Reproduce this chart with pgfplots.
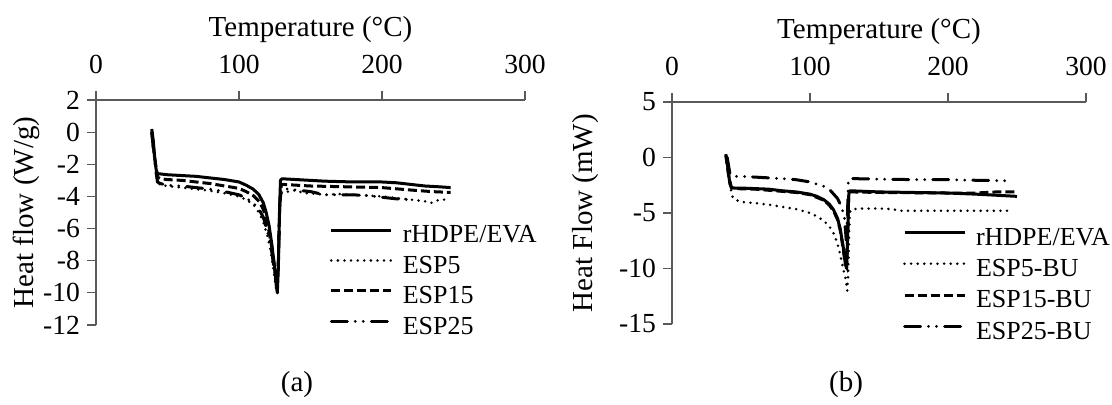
\documentclass[border=0pt]{standalone}
\usepackage{fontspec}
\setmainfont{Liberation Serif}
\usepackage{pgfplots}
\pgfplotsset{compat=1.18}

\newcommand{\fs}{\fontsize{13.8pt}{16pt}\selectfont}
\newcommand{\fl}{\fontsize{14.5pt}{17pt}\selectfont}
\newcommand{\fg}{\fontsize{13pt}{15pt}\selectfont}

\pgfplotsset{
  dsc/.style={
    scale only axis,
    xmin=0, xmax=300, xtick distance=100,
    axis x line*=top, axis y line*=left,
    axis line style={black!65, line width=0.6pt, -},
    tick style={black!65, line width=0.6pt},
    tick align=outside, major tick length=4.5pt,
    /pgf/number format/assume math mode=true,
    tick label style={font=\fs},
    xticklabel style={anchor=base, yshift=9pt},
    yticklabel style={anchor=east},
    xlabel={Temperature (°C)},
    every axis x label/.style={at={(axis description cs:0.5,1)}, anchor=base, yshift=32pt, font=\fl},
    legend cell align=left,
    legend style={draw=none, fill=none, font=\fg, anchor=north west, inner sep=0pt,
      row sep=0pt, column sep=5pt,
      nodes={inner sep=0pt, text height=10.5pt, text depth=4.7pt}},
    legend image code/.code={\draw[##1] (0pt,3.5pt) -- (30pt,3.5pt);},
  },
  s1/.style={black, line width=1.5pt, line join=round},
  s2/.style={black, line width=1.4pt, line cap=round, dash pattern=on 0pt off 3.3pt},
  s3/.style={black, line width=1.5pt, dash pattern=on 4.5pt off 2pt},
  s4/.style={black, line width=1.5pt, line cap=round, dash pattern=on 8pt off 4pt on 0pt off 4pt on 0pt off 4pt},
}

\begin{document}
\begin{tikzpicture}
\useasboundingbox (0,0) rectangle (556pt,202pt);

% (a) heat flow in W/g
\begin{axis}[dsc, at={(48pt,39.5pt)}, anchor=south west,
  width=214.5pt, height=112.5pt,
  ymin=-12, ymax=2, ytick distance=2,
  ylabel={Heat flow (W/g)},
  every axis y label/.style={at={(axis description cs:-0.163,0.5)}, rotate=90, anchor=center, font=\fl},
  legend style={at={(0.544,0.46)}},
]
\addplot[s1] coordinates {
(39,0.2) (40,-0.5) (41,-1.5) (42,-2.3) (43,-2.6) (45,-2.6) (50,-2.65) (60,-2.7)
(70,-2.75) (80,-2.85) (90,-2.95) (100,-3.1) (105,-3.3) (110,-3.55) (114,-3.9)
(117,-4.4) (119,-5.0) (121,-5.8) (123,-7.0) (125,-8.5) (126,-9.5) (126.8,-10)
(127.5,-8.5) (128.3,-5) (129,-3.0) (130,-2.9) (140,-2.95) (150,-3.0) (160,-3.05)
(180,-3.1) (200,-3.1) (210,-3.15) (220,-3.25) (230,-3.35) (240,-3.4) (248,-3.45)
};
\addlegendentry{rHDPE/EVA}
\addplot[s2] coordinates {
(39,0) (41,-1.8) (43,-3.0) (45,-3.3) (50,-3.35) (60,-3.45) (70,-3.55) (80,-3.65)
(90,-3.8) (100,-4.0) (105,-4.2) (110,-4.5) (114,-5.0) (117,-5.6) (120,-6.5)
(122,-7.3) (124,-8.5) (126,-9.8) (127.5,-8) (128.5,-5) (129.5,-3.8) (131,-3.7)
(135,-3.7) (140,-3.6) (145,-3.8) (150,-3.8) (160,-3.9) (170,-3.85) (180,-3.9)
(190,-3.95) (200,-4.0) (210,-4.1) (220,-4.2) (230,-4.3) (235,-4.4) (240,-4.2) (248,-4.2)
};
\addlegendentry{ESP5}
\addplot[s3] coordinates {
(39,0) (41,-1.6) (43,-2.8) (45,-2.9) (50,-2.95) (60,-3.0) (70,-3.1) (80,-3.2)
(90,-3.35) (100,-3.5) (105,-3.7) (110,-3.95) (114,-4.3) (117,-4.8) (120,-5.7)
(123,-7.2) (125,-8.5) (126.5,-9.6) (127.5,-8) (128.5,-4.5) (129.5,-3.3) (131,-3.25)
(140,-3.3) (150,-3.35) (175,-3.4) (200,-3.45) (220,-3.6) (235,-3.7) (248,-3.75)
};
\addlegendentry{ESP15}
\addplot[s4] coordinates {
(39,0) (41,-1.9) (43,-3.1) (45,-3.2) (50,-3.3) (60,-3.35) (70,-3.45) (80,-3.55)
(90,-3.7) (100,-3.9) (105,-4.1) (110,-4.4) (114,-4.8) (117,-5.3) (120,-6.2)
(123,-7.5) (125,-8.8) (126.5,-9.7) (127.5,-8) (128.5,-4.5) (129.5,-3.6) (131,-3.5)
(140,-3.6) (150,-3.7) (160,-3.9) (170,-3.9) (180,-3.9) (190,-3.95) (200,-4.05)
(210,-4.15) (218,-4.2)
};
\addlegendentry{ESP25}
\end{axis}

% (b) heat flow in mW
\begin{axis}[dsc, at={(336pt,40pt)}, anchor=south west,
  width=207pt, height=111pt,
  ymin=-15, ymax=5, ytick distance=5,
  ylabel={Heat Flow (mW)},
  every axis y label/.style={at={(axis description cs:-0.208,0.5)}, rotate=90, anchor=center, font=\fl},
  legend style={at={(0.557,0.452)}, row sep=0.5pt},
]
\addplot[s1] coordinates {
(39,0.3) (40,-0.5) (41,-1.5) (42,-2.4) (43,-2.7) (45,-2.75) (50,-2.75) (60,-2.8)
(70,-2.85) (80,-3.0) (90,-3.1) (100,-3.3) (105,-3.5) (110,-3.8) (114,-4.2)
(117,-4.7) (120,-5.5) (122,-6.5) (124,-8) (125.5,-9.5) (126.5,-10) (127.3,-7)
(128,-3.5) (128.5,-3.0) (130,-3.0) (140,-3.05) (150,-3.1) (175,-3.15) (200,-3.2)
(220,-3.3) (235,-3.4) (250,-3.5)
};
\addlegendentry{rHDPE/EVA}
\addplot[s2] coordinates {
(40,0) (42,-2.5) (44,-3.6) (46,-3.8) (50,-4.0) (60,-4.1) (70,-4.25) (80,-4.45)
(90,-4.65) (100,-5.0) (105,-5.3) (110,-5.7) (114,-6.2) (117,-6.8) (120,-7.8)
(122,-8.8) (124,-10) (126,-11) (127,-12) (127.7,-10.5) (128.3,-7) (128.8,-5)
(129.5,-4.7) (135,-4.6) (150,-4.6) (160,-4.65) (165,-4.8) (180,-4.8) (200,-4.8)
(220,-4.8) (243,-4.8)
};
\addlegendentry{ESP5-BU}
\addplot[s3] coordinates {
(39,0.2) (41,-1.6) (43,-2.7) (45,-2.8) (60,-2.85) (80,-3.05) (90,-3.15) (100,-3.35)
(110,-3.85) (114,-4.3) (117,-4.8) (120,-5.6) (122,-6.6) (124,-8.2) (125.5,-9.5)
(126.5,-9.8) (127.3,-7) (128,-3.5) (128.5,-3.1) (130,-3.1) (150,-3.15) (200,-3.2)
(220,-3.2) (235,-3.1) (248,-3.1)
};
\addlegendentry{ESP15-BU}
\addplot[s4] coordinates {
(40,0) (42,-1.5) (45,-1.7) (51,-1.7) (65,-1.8) (80,-1.9) (90,-2.0) (100,-2.2)
(110,-2.6) (115,-3.0) (120,-3.7) (123,-4.5) (125,-5.5) (126.3,-7.5) (127.2,-5)
(127.8,-2.0) (130,-1.9) (150,-1.95) (180,-2.0) (200,-2.0) (220,-2.05) (245,-2.1)
};
\addlegendentry{ESP25-BU}
\end{axis}

\node[font=\fl] at (148.5pt,9.5pt) {(a)};
\node[font=\fl] at (423pt,9.5pt) {(b)};
\end{tikzpicture}
\end{document}
